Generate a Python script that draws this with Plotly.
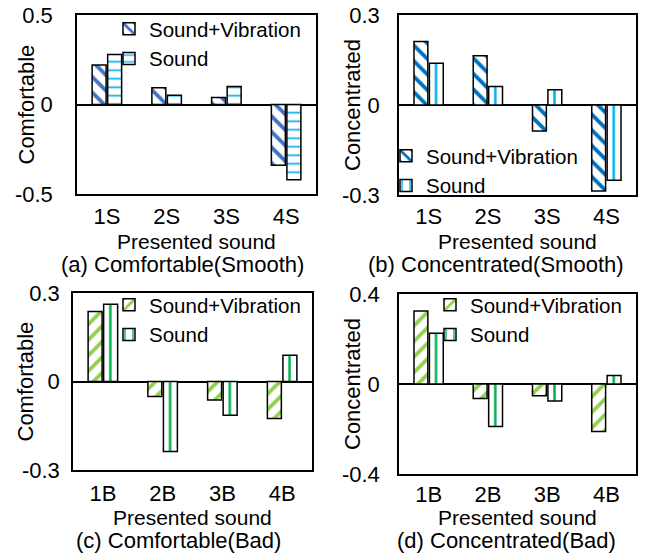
import plotly.graph_objects as go

# ---- data ----
categories_smooth = ["1S", "2S", "3S", "4S"]
categories_bad = ["1B", "2B", "3B", "4B"]
series_names = ["Sound+Vibration", "Sound"]

comf_smooth_sv = [0.22, 0.093, 0.039, -0.34]
comf_smooth_s = [0.28, 0.052, 0.10, -0.42]
conc_smooth_sv = [0.212, 0.164, -0.087, -0.287]
conc_smooth_s = [0.139, 0.062, 0.051, -0.251]
comf_bad_sv = [0.237, -0.051, -0.063, -0.125]
comf_bad_s = [0.262, -0.237, -0.114, 0.089]
conc_bad_sv = [0.325, -0.064, -0.052, -0.211]
conc_bad_s = [0.226, -0.189, -0.075, 0.038]

yticks_a = [-0.5, 0, 0.5]
yticks_b = [-0.3, 0, 0.3]
yticks_c = [-0.3, 0, 0.3]
yticks_d = [-0.4, 0, 0.4]
ytext_a = ["-0.5", "0", "0.5"]
ytext_b = ["-0.3", "0", "0.3"]
ytext_c = ["-0.3", "0", "0.3"]
ytext_d = ["-0.4", "0", "0.4"]

x_title = "Presented sound"
captions = ["(a) Comfortable(Smooth)", "(b) Concentrated(Smooth)",
            "(c) Comfortable(Bad)", "(d) Concentrated(Bad)"]

FONT = "Liberation Sans, Arial, sans-serif"
FS = 22
W, H = 650, 553

panels = [
    dict(cats=categories_smooth, sv=comf_smooth_sv, s=comf_smooth_s,
         svc="#4472C4", svs="\\", sc="#00B0F0", ss="-", yt="Comfortable",
         tv=yticks_a, tt=ytext_a, box=(77, 316, 15, 194), leg=(109, 9),
         ytx=26, tls=18, xtls=2, xty=241, capx=182, capy=264),
    dict(cats=categories_smooth, sv=conc_smooth_sv, s=conc_smooth_s,
         svc="#0070C0", svs="\\", sc="#00B0F0", ss="|", yt="Concentrated",
         tv=yticks_b, tt=ytext_b, box=(399, 636, 15, 195), leg=(386, 136),
         ytx=352, tls=13, xtls=1, xty=241, capx=496, capy=264),
    dict(cats=categories_bad, sv=comf_bad_sv, s=comf_bad_s,
         svc="#92D050", svs="/", sc="#00B050", ss="|", yt="Comfortable",
         tv=yticks_c, tt=ytext_c, box=(73, 312, 293, 470), leg=(109, 285),
         ytx=25, tls=7, xtls=3, xty=517, capx=178, capy=540),
    dict(cats=categories_bad, sv=conc_bad_sv, s=conc_bad_s,
         svc="#92D050", svs="/", sc="#00B050", ss="|", yt="Concentrated",
         tv=yticks_d, tt=ytext_d, box=(399, 636, 294, 474), leg=(430, 285),
         ytx=352, tls=13, xtls=0, xty=517, capx=506, capy=540),
]

fig = go.Figure()
layout = dict(
    width=W, height=H, margin=dict(l=0, r=0, t=0, b=0, autoexpand=False),
    paper_bgcolor="white", plot_bgcolor="white",
    font=dict(family=FONT, size=FS, color="black"),
    bargap=0.48, bargroupgap=0.1, barmode="group",
    annotations=[], showlegend=True,
)

for i, p in enumerate(panels):
    k = "" if i == 0 else str(i + 1)
    xa, ya = "x" + k, "y" + k
    lg = "legend" + k
    x0, x1, y0, y1 = p["box"]
    catw = (x1 - x0) / len(p["cats"])
    fig.add_trace(go.Bar(
        x=p["cats"], y=p["sv"], name=series_names[0], xaxis=xa, yaxis=ya, legend=lg,
        marker=dict(color="white", line=dict(color="black", width=1.5),
                    pattern=dict(shape=p["svs"], fgcolor=p["svc"], bgcolor="white",
                                 size=11, solidity=0.35, fillmode="replace")),
    ))
    if p["ss"] == "-":
        spat = dict(shape="-", fgcolor=p["sc"], bgcolor="white",
                    size=8.5, solidity=0.2, fillmode="replace")
    else:
        spat = dict(shape="|", fgcolor=p["sc"], bgcolor="white",
                    size=catw / 4, solidity=0.17, fillmode="replace")
    fig.add_trace(go.Bar(
        x=p["cats"], y=p["s"], name=series_names[1], xaxis=xa, yaxis=ya, legend=lg,
        marker=dict(color="white", line=dict(color="black", width=1.5), pattern=spat),
    ))
    lim = p["tv"][-1]
    layout["xaxis" + k] = dict(
        domain=[x0 / W, x1 / W], anchor=ya, showline=True, mirror=True,
        linecolor="black", linewidth=1.5, ticks="", showgrid=False,
        tickfont=dict(size=FS), ticklabelstandoff=p["xtls"],
    )
    layout["yaxis" + k] = dict(
        domain=[1 - y1 / H, 1 - y0 / H], anchor=xa, range=[-lim, lim],
        tickvals=p["tv"], ticktext=p["tt"], showline=True, mirror=True,
        linecolor="black", linewidth=1.5, ticks="", showgrid=False,
        zeroline=True, zerolinecolor="black", zerolinewidth=1.5,
        tickfont=dict(size=FS), ticklabelstandoff=p["tls"],
    )
    lx, ly = p["leg"]
    layout[lg] = dict(
        x=lx / W, y=1 - ly / H, xanchor="left", yanchor="top",
        bgcolor="rgba(0,0,0,0)", font=dict(size=20.5), tracegroupgap=0,
        itemwidth=30,
    )
    # y-axis title
    layout["annotations"].append(dict(
        text=p["yt"], xref="paper", yref="paper", textangle=-90,
        x=p["ytx"] / W, y=1 - (y0 + y1) / 2 / H, xanchor="center", yanchor="middle",
        showarrow=False, font=dict(size=FS),
    ))
    # x-axis title
    layout["annotations"].append(dict(
        text=x_title, xref="paper", yref="paper",
        x=(x0 + x1) / 2 / W, y=1 - p["xty"] / H, xanchor="center", yanchor="middle",
        showarrow=False, font=dict(size=FS - 1),
    ))
    # caption
    layout["annotations"].append(dict(
        text=captions[i], xref="paper", yref="paper",
        x=p["capx"] / W, y=1 - p["capy"] / H, xanchor="center", yanchor="middle",
        showarrow=False, font=dict(size=FS),
    ))

fig.update_layout(**layout)
fig.write_html("out.html")
